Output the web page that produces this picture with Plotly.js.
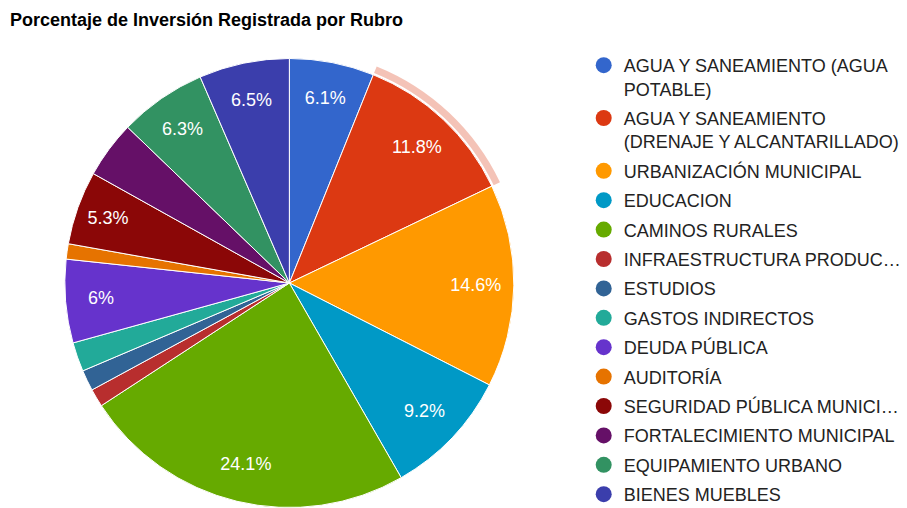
<!DOCTYPE html>
<html>
<head>
<meta charset="utf-8">
<script src="https://cdn.plot.ly/plotly-3.0.1.min.js"></script>
<style>
html,body{margin:0;padding:0;overflow:hidden;background:#fff;}
#chart{width:907px;height:524px;}
</style>
</head>
<body>
<div id="chart"></div>
<script>
const categories = [
  "AGUA Y SANEAMIENTO (AGUA POTABLE)",
  "AGUA Y SANEAMIENTO (DRENAJE Y ALCANTARILLADO)",
  "URBANIZACIÓN MUNICIPAL",
  "EDUCACION",
  "CAMINOS RURALES",
  "INFRAESTRUCTURA PRODUC…",
  "ESTUDIOS",
  "GASTOS INDIRECTOS",
  "DEUDA PÚBLICA",
  "AUDITORÍA",
  "SEGURIDAD PÚBLICA MUNICI…",
  "FORTALECIMIENTO MUNICIPAL",
  "EQUIPAMIENTO URBANO",
  "BIENES MUEBLES"
];
const legendText = [
  "AGUA Y SANEAMIENTO (AGUA<br>POTABLE)",
  "AGUA Y SANEAMIENTO<br>(DRENAJE Y ALCANTARILLADO)",
  "URBANIZACIÓN MUNICIPAL",
  "EDUCACION",
  "CAMINOS RURALES",
  "INFRAESTRUCTURA PRODUC…",
  "ESTUDIOS",
  "GASTOS INDIRECTOS",
  "DEUDA PÚBLICA",
  "AUDITORÍA",
  "SEGURIDAD PÚBLICA MUNICI…",
  "FORTALECIMIENTO MUNICIPAL",
  "EQUIPAMIENTO URBANO",
  "BIENES MUEBLES"
];
const percentages = [6.1, 11.8, 14.6, 9.2, 24.1, 1.3, 1.5, 2.1, 6.0, 1.1, 5.3, 4.1, 6.3, 6.5];
const colors = ["#3366cc","#dc3912","#ff9900","#0099c6","#66aa00","#b82e2e","#316395",
                "#22aa99","#6633cc","#e67300","#8b0707","#651067","#329262","#3b3eac"];
const highlighted = 1;

const W = 907, H = 524;
const FONT = "Arial, 'Liberation Sans', sans-serif";
const pieDomain = {x: [65 / W, 515 / W], y: [1 - 508 / H, 1 - 58 / H]};

const mainPie = {
  type: "pie",
  labels: categories,
  values: percentages,
  sort: false,
  direction: "clockwise",
  rotation: 0,
  marker: {colors: colors, line: {color: "#ffffff", width: 1}},
  textinfo: "none",
  hoverinfo: "label+percent",
  showlegend: false,
  domain: pieDomain
};

// transparent donut on top that only carries the slice labels (places them near the rim)
const labelPie = {
  type: "pie",
  labels: categories,
  values: percentages,
  sort: false,
  direction: "clockwise",
  rotation: 0,
  hole: 0.66,
  marker: {colors: colors.map(() => "rgba(0,0,0,0)"), line: {width: 0}},
  textinfo: "percent",
  textposition: percentages.map(v => v >= 5 ? "inside" : "none"),
  insidetextorientation: "horizontal",
  textfont: {family: FONT, size: 18, color: "#ffffff"},
  hoverinfo: "skip",
  showlegend: false,
  domain: pieDomain
};

const ringPie = {
  type: "pie",
  labels: categories,
  values: percentages,
  sort: false,
  direction: "clockwise",
  rotation: 0,
  hole: 227 / 234,
  marker: {
    colors: colors.map((c, i) => i === highlighted ? "rgba(220,57,18,0.3)" : "rgba(0,0,0,0)"),
    line: {width: 0}
  },
  textinfo: "none",
  hoverinfo: "skip",
  showlegend: false,
  domain: {x: [56 / W, 524 / W], y: [1 - 517 / H, 1 - 49 / H]}
};

const legendTraces = categories.map((c, i) => ({
  type: "scatter",
  mode: "markers",
  x: [null], y: [null],
  name: legendText[i],
  legendgroup: "g" + i,
  marker: {color: colors[i], size: 16, symbol: "circle"},
  hoverinfo: "skip",
  showlegend: true
}));

const layout = {
  width: W, height: H,
  margin: {l: 0, r: 0, t: 0, b: 0},
  paper_bgcolor: "#ffffff",
  plot_bgcolor: "rgba(0,0,0,0)",
  font: {family: FONT, color: "#222222"},
  title: {
    text: "<b>Porcentaje de Inversión Registrada por Rubro</b>",
    font: {family: FONT, size: 18, color: "#000000"},
    xref: "container", yref: "container",
    x: 10 / W, xanchor: "left",
    y: 1 - 20 / H, yanchor: "middle"
  },
  xaxis: {visible: false},
  yaxis: {visible: false},
  showlegend: true,
  legend: {
    x: 585 / W, xanchor: "left",
    y: 1 - 47 / H, yanchor: "top",
    font: {family: FONT, size: 18, color: "#222222"},
    tracegroupgap: 3,
    valign: "top",
    bgcolor: "rgba(0,0,0,0)",
    itemclick: false, itemdoubleclick: false
  }
};

Plotly.newPlot("chart", [ringPie, mainPie, labelPie].concat(legendTraces), layout, {displayModeBar: false, staticPlot: true});
</script>
</body>
</html>
